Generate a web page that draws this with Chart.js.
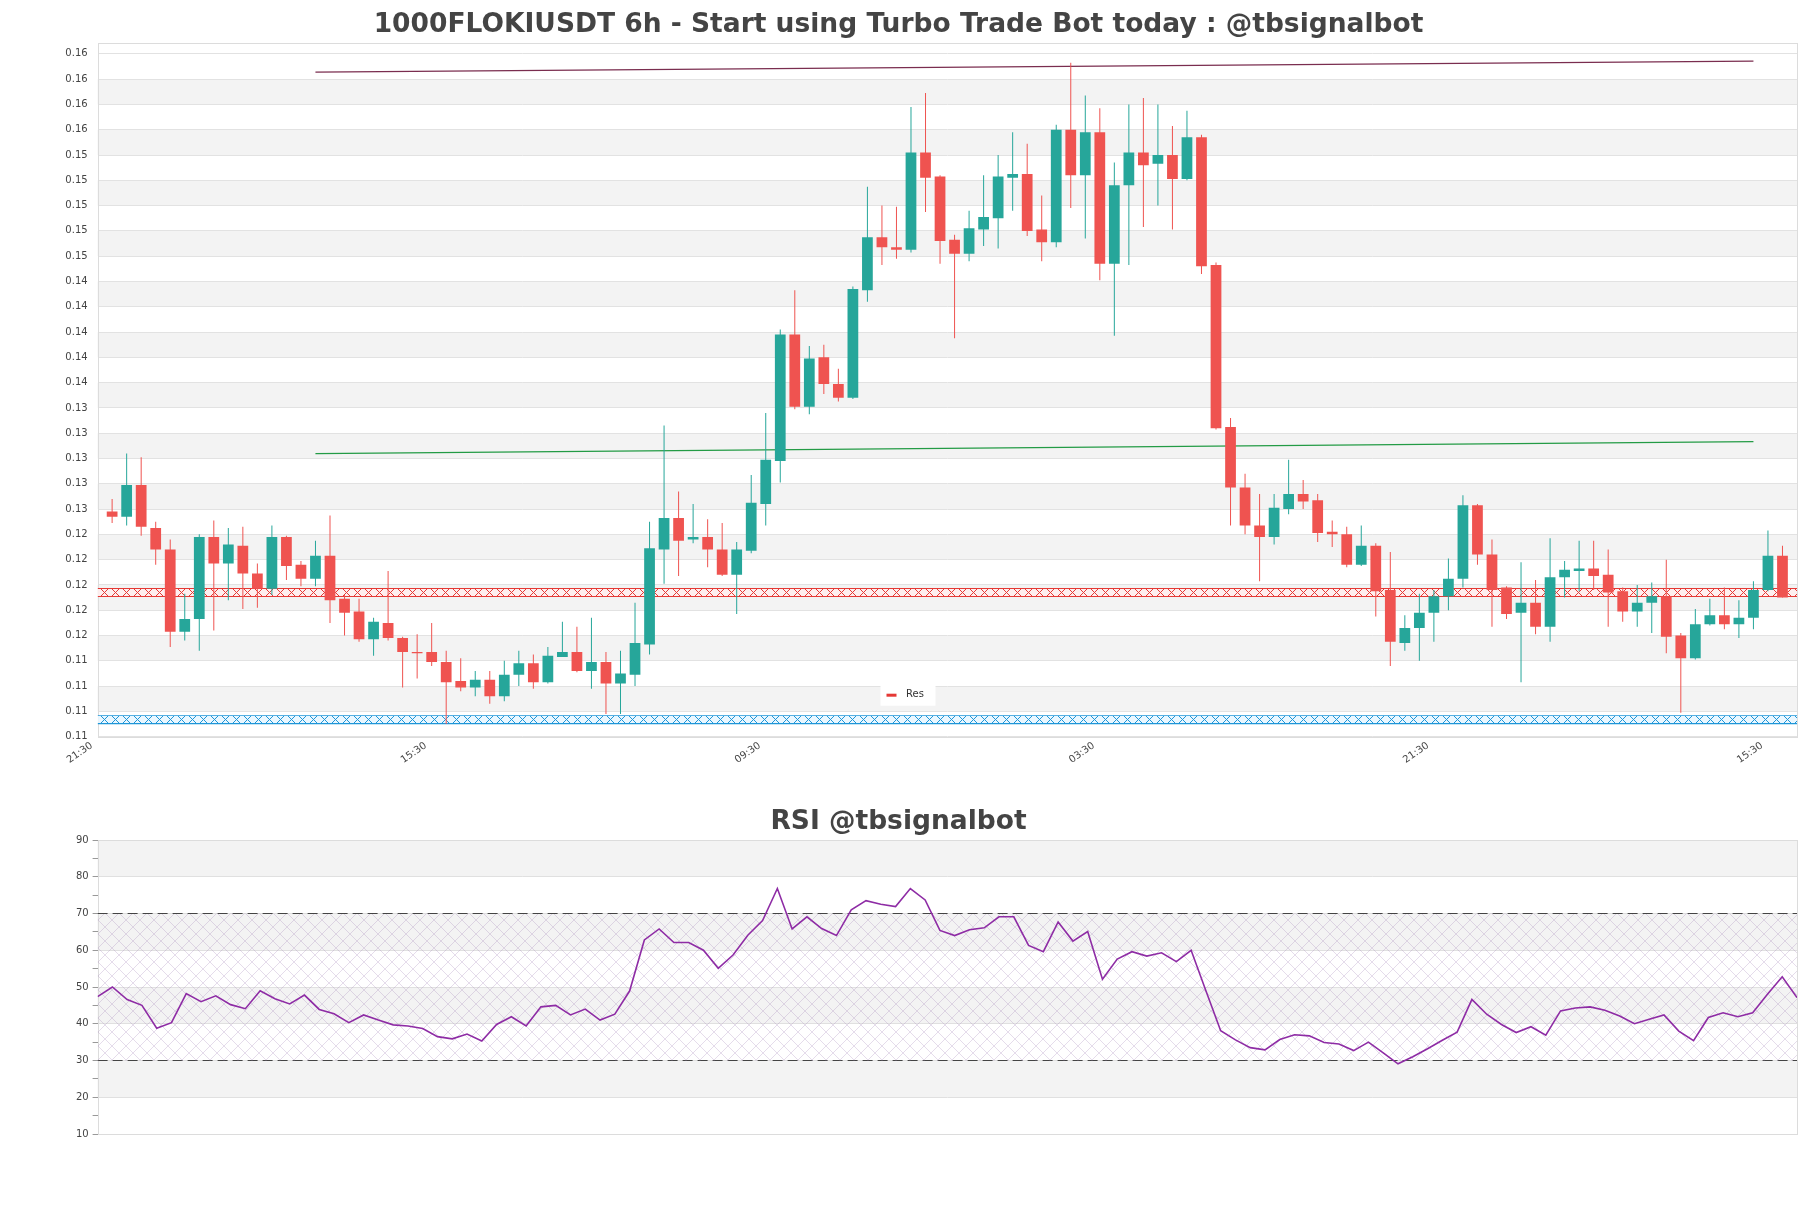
<!DOCTYPE html>
<html>
<head>
<meta charset="utf-8">
<script src="https://cdn.jsdelivr.net/npm/chart.js@4.4.1/dist/chart.umd.min.js"></script>
<style>
  html, body { margin: 0; padding: 0; background: #fff; }
  #wrap { position: relative; width: 1811px; height: 1208px; }
  #priceChart { position: absolute; left: 0; top: 0; }
  #rsiChart { position: absolute; left: 0; top: 780px; }
</style>
</head>
<body>
<div id="wrap">
  <canvas id="priceChart" width="1811" height="780"></canvas>
  <canvas id="rsiChart" width="1811" height="428"></canvas>
</div>
<script>
// 6h candles
const opens = [
  0.1258, 0.1254, 0.1279, 0.1245, 0.1228, 0.1163, 0.1173, 0.1238, 0.1217, 0.1231,
  0.1209, 0.1197, 0.1238, 0.1216, 0.1205, 0.1223, 0.1189, 0.1179, 0.1157, 0.1170,
  0.1158, 0.1147, 0.1147, 0.1139, 0.1124, 0.1119, 0.1125, 0.1112, 0.1129, 0.1138,
  0.1123, 0.1143, 0.1147, 0.1132, 0.1139, 0.1122, 0.1129, 0.1153, 0.1228, 0.1253,
  0.1236, 0.1238, 0.1228, 0.1208, 0.1227, 0.1264, 0.1298, 0.1398, 0.1341, 0.1380,
  0.1359, 0.1348, 0.1433, 0.1475, 0.1467, 0.1465, 0.1542, 0.1523, 0.1473, 0.1462,
  0.1481, 0.1490, 0.1522, 0.1525, 0.1481, 0.1471, 0.1560, 0.1524, 0.1558, 0.1454,
  0.1516, 0.1542, 0.1533, 0.1540, 0.1521, 0.1554, 0.1453, 0.1325, 0.1277, 0.1247,
  0.1238, 0.1260, 0.1272, 0.1267, 0.1242, 0.1240, 0.1216, 0.1231, 0.1196, 0.1154,
  0.1166, 0.1178, 0.1191, 0.1205, 0.1263, 0.1224, 0.1198, 0.1178, 0.1186, 0.1167,
  0.1206, 0.1211, 0.1213, 0.1208, 0.1195, 0.1179, 0.1186, 0.1191, 0.1160, 0.1142,
  0.1169, 0.1176, 0.1169, 0.1174, 0.1196, 0.1223
];
const highs = [
  0.1268, 0.1304, 0.1301, 0.1250, 0.1236, 0.1193, 0.1240, 0.1251, 0.1245, 0.1246,
  0.1217, 0.1247, 0.1239, 0.1219, 0.1235, 0.1255, 0.1192, 0.1189, 0.1174, 0.1211,
  0.1159, 0.1161, 0.1170, 0.1148, 0.1142, 0.1132, 0.1132, 0.1140, 0.1148, 0.1145,
  0.1151, 0.1171, 0.1167, 0.1174, 0.1147, 0.1148, 0.1186, 0.1250, 0.1326, 0.1274,
  0.1264, 0.1252, 0.1249, 0.1234, 0.1287, 0.1336, 0.1402, 0.1433, 0.1389, 0.1390,
  0.1371, 0.1436, 0.1515, 0.1500, 0.1499, 0.1578, 0.1589, 0.1524, 0.1477, 0.1496,
  0.1524, 0.1540, 0.1558, 0.1549, 0.1508, 0.1564, 0.1613, 0.1587, 0.1577, 0.1534,
  0.1580, 0.1585, 0.1580, 0.1563, 0.1575, 0.1556, 0.1455, 0.1332, 0.1288, 0.1272,
  0.1272, 0.1299, 0.1283, 0.1272, 0.1251, 0.1246, 0.1247, 0.1233, 0.1226, 0.1176,
  0.1193, 0.1196, 0.1221, 0.1271, 0.1264, 0.1236, 0.1199, 0.1218, 0.1204, 0.1237,
  0.1219, 0.1235, 0.1235, 0.1228, 0.1198, 0.1200, 0.1202, 0.1220, 0.1162, 0.1181,
  0.1189, 0.1198, 0.1188, 0.1203, 0.1243, 0.1231
];
const lows = [
  0.1249, 0.1247, 0.1239, 0.1216, 0.1151, 0.1156, 0.1148, 0.1164, 0.1188, 0.1181,
  0.1182, 0.1192, 0.1204, 0.1199, 0.1199, 0.1170, 0.1160, 0.1155, 0.1144, 0.1156,
  0.1119, 0.1126, 0.1136, 0.1090, 0.1116, 0.1112, 0.1106, 0.1108, 0.1120, 0.1118,
  0.1122, 0.1143, 0.1131, 0.1118, 0.1098, 0.1098, 0.1120, 0.1145, 0.1201, 0.1207,
  0.1233, 0.1214, 0.1207, 0.1177, 0.1225, 0.1247, 0.1281, 0.1339, 0.1335, 0.1351,
  0.1345, 0.1347, 0.1424, 0.1453, 0.1458, 0.1463, 0.1495, 0.1454, 0.1395, 0.1456,
  0.1468, 0.1466, 0.1496, 0.1476, 0.1456, 0.1467, 0.1498, 0.1474, 0.1441, 0.1397,
  0.1453, 0.1483, 0.1500, 0.1481, 0.1520, 0.1446, 0.1323, 0.1247, 0.1240, 0.1203,
  0.1232, 0.1256, 0.1260, 0.1234, 0.1230, 0.1214, 0.1215, 0.1175, 0.1136, 0.1148,
  0.1140, 0.1155, 0.1180, 0.1198, 0.1216, 0.1167, 0.1173, 0.1123, 0.1161, 0.1155,
  0.1190, 0.1195, 0.1196, 0.1167, 0.1171, 0.1167, 0.1162, 0.1146, 0.1099, 0.1141,
  0.1168, 0.1165, 0.1158, 0.1165, 0.1195, 0.1190
];
const closes = [
  0.1254, 0.1279, 0.1246, 0.1228, 0.1163, 0.1173, 0.1238, 0.1217, 0.1232, 0.1209,
  0.1197, 0.1238, 0.1215, 0.1205, 0.1223, 0.1188, 0.1178, 0.1157, 0.1171, 0.1158,
  0.1147, 0.1146, 0.1139, 0.1123, 0.1119, 0.1125, 0.1112, 0.1129, 0.1138, 0.1123,
  0.1144, 0.1147, 0.1132, 0.1139, 0.1122, 0.1130, 0.1154, 0.1229, 0.1253, 0.1235,
  0.1238, 0.1228, 0.1208, 0.1228, 0.1265, 0.1299, 0.1398, 0.1341, 0.1379, 0.1359,
  0.1348, 0.1434, 0.1475, 0.1467, 0.1465, 0.1542, 0.1522, 0.1472, 0.1462, 0.1482,
  0.1491, 0.1523, 0.1525, 0.1480, 0.1471, 0.1560, 0.1524, 0.1558, 0.1454, 0.1516,
  0.1542, 0.1532, 0.1540, 0.1521, 0.1554, 0.1452, 0.1324, 0.1277, 0.1247, 0.1238,
  0.1261, 0.1272, 0.1266, 0.1241, 0.1240, 0.1216, 0.1231, 0.1195, 0.1155, 0.1166,
  0.1178, 0.1191, 0.1205, 0.1263, 0.1224, 0.1196, 0.1177, 0.1186, 0.1167, 0.1206,
  0.1212, 0.1213, 0.1207, 0.1194, 0.1179, 0.1186, 0.1191, 0.1159, 0.1142, 0.1169,
  0.1176, 0.1169, 0.1174, 0.1196, 0.1223, 0.1190
];

// RSI, one value per candle
const rsiValues = [
  47.4, 50.0, 46.6, 45.0, 38.8, 40.3, 48.2, 46.0, 47.6, 45.2,
  44.1, 49.0, 46.8, 45.4, 47.8, 43.9, 42.7, 40.3, 42.4, 41.0,
  39.7, 39.4, 38.7, 36.5, 35.9, 37.2, 35.3, 39.8, 41.9, 39.4,
  44.6, 45.0, 42.4, 44.0, 41.0, 42.6, 48.9, 62.8, 65.8, 62.1,
  62.1, 60.0, 55.1, 58.7, 64.1, 68.1, 76.8, 65.8, 69.1, 65.9,
  64.0, 71.0, 73.5, 72.5, 71.9, 76.8, 73.7, 65.4, 64.0, 65.6,
  66.1, 69.1, 69.1, 61.3, 59.6, 67.7, 62.5, 65.1, 52.1, 57.6,
  59.6, 58.4, 59.3, 56.9, 60.0, 49.0, 38.1, 35.6, 33.5, 32.9,
  35.7, 37.0, 36.7, 34.9, 34.5, 32.7, 35.0, 32.1, 29.1, 31.0,
  33.2, 35.5, 37.7, 46.6, 42.6, 39.8, 37.6, 39.2, 36.9, 43.5,
  44.3, 44.6, 43.7, 42.1, 40.0, 41.2, 42.4, 38.0, 35.4, 41.7,
  43.0, 41.9, 43.0, 48.0, 52.8, 47.1
];
const rsiLevels = [70, 30];
const rsiTicks = [10, 20, 30, 40, 50, 60, 70, 80, 90];

// support / resistance and trend lines (candle index, price)
const resLevel = 0.1194;
const supLevel = 0.10935;
const upperTrend = [{ x: 14, y: 0.16055 }, { x: 113, y: 0.16142 }];
const lowerTrend = [{ x: 14, y: 0.13038 }, { x: 113, y: 0.13133 }];

// axis ticks
const xTickIndex = [-1, 22, 45, 68, 91, 114];
const xTickLabels = ['21:30', '15:30', '09:30', '03:30', '21:30', '15:30'];
const yTickValues = [
  0.108, 0.110, 0.112, 0.114, 0.116, 0.118, 0.120, 0.122, 0.124, 0.126,
  0.128, 0.130, 0.132, 0.134, 0.136, 0.138, 0.140, 0.142, 0.144, 0.146,
  0.148, 0.150, 0.152, 0.154, 0.156, 0.158, 0.160, 0.162
];

const UP = '#26a69a';
const DOWN = '#ef5350';
const RES_COLOR = '#e53935';
const SUP_COLOR = '#1e96d8';

Chart.defaults.font.family = "'DejaVu Sans', sans-serif";
Chart.defaults.color = '#444';

// row of crosses used for the support / resistance bands
function bandPattern(color, bg) {
  const w = 11, h = 9;
  const c = document.createElement('canvas');
  c.width = w; c.height = h;
  const g = c.getContext('2d');
  g.fillStyle = bg;
  g.fillRect(0, 0, w, h);
  g.strokeStyle = color;
  g.lineWidth = 1;
  g.beginPath();
  g.moveTo(0, 0.5); g.lineTo(w, 0.5);
  g.moveTo(0, h - 0.5); g.lineTo(w, h - 0.5);
  g.moveTo(1.5, 0.5); g.lineTo(w - 1.5, h - 0.5);
  g.moveTo(w - 1.5, 0.5); g.lineTo(1.5, h - 0.5);
  g.stroke();
  return g.createPattern(c, 'repeat');
}

// light diagonal cross-hatch for the RSI 30-70 zone
function hatchPattern() {
  const s = 14;
  const c = document.createElement('canvas');
  c.width = s; c.height = s;
  const g = c.getContext('2d');
  g.strokeStyle = 'rgba(170, 140, 190, 0.3)';
  g.lineWidth = 1;
  g.beginPath();
  g.moveTo(0, 0); g.lineTo(s, s);
  g.moveTo(s, 0); g.lineTo(0, s);
  g.stroke();
  return g.createPattern(c, 'repeat');
}

// alternating grey bands between major y ticks, plus a frame round the plot
const bandsPlugin = {
  id: 'bands',
  beforeDraw(chart, args, opts) {
    const { ctx, chartArea: a } = chart;
    const ys = chart.scales.y;
    const major = ys.ticks.map((t) => t.value).filter(opts.filter).sort((p, q) => p - q);
    ctx.save();
    ctx.fillStyle = opts.color;
    for (let i = 1; i < major.length - 1; i += 2) {
      const top = ys.getPixelForValue(major[i + 1]);
      const bottom = ys.getPixelForValue(major[i]);
      ctx.fillRect(a.left, top, a.right - a.left, bottom - top);
    }
    ctx.restore();
  },
  beforeDatasetsDraw(chart, args, opts) {
    const { ctx, chartArea: a } = chart;
    ctx.save();
    ctx.strokeStyle = opts.frame;
    ctx.lineWidth = 1;
    ctx.strokeRect(Math.round(a.left) + 0.5, Math.round(a.top) + 0.5,
      Math.round(a.right - a.left), Math.round(a.bottom - a.top));
    ctx.restore();
  }
};

// keep the cross patterns lined up with their band
const patternAlign = {
  id: 'patternAlign',
  beforeDatasetsDraw(chart) {
    chart.data.datasets.forEach((ds) => {
      if (!ds.isBand) return;
      const y = chart.scales.y.getPixelForValue(ds.data[0].y);
      ds.borderColor.setTransform(new DOMMatrix().translate(0, Math.round(y - ds.borderWidth / 2)));
    });
  }
};

// small legend box with the "Res" entry, sitting low in the plot
const resLegend = {
  id: 'resLegend',
  afterDraw(chart) {
    const ds = chart.data.datasets.find((d) => d.showInLegend);
    if (!ds) return;
    const { ctx, chartArea: a, width } = chart;
    const cx = width / 2;
    const cy = a.bottom - 42;
    ctx.save();
    ctx.fillStyle = '#fff';
    ctx.fillRect(cx - 25, cy - 10, 55, 21);
    ctx.strokeStyle = RES_COLOR;
    ctx.lineWidth = 3;
    ctx.beginPath();
    ctx.moveTo(cx - 19, cy + 0.5);
    ctx.lineTo(cx - 9, cy + 0.5);
    ctx.stroke();
    ctx.fillStyle = '#333';
    ctx.font = "10px 'DejaVu Sans'";
    ctx.textBaseline = 'middle';
    ctx.fillText(ds.label, cx + 0.5, cy);
    ctx.restore();
  }
};

const candleColor = (ctx) => (closes[ctx.dataIndex] >= opens[ctx.dataIndex] ? UP : DOWN);
const lastIndex = opens.length - 1;

new Chart(document.getElementById('priceChart'), {
  type: 'bar',
  data: {
    datasets: [
      {
        label: 'Body',
        data: opens.map((o, i) => ({ x: i, y: [o, closes[i]] })),
        backgroundColor: candleColor,
        borderWidth: 0,
        grouped: false,
        categoryPercentage: 1,
        barPercentage: 0.74
      },
      {
        label: 'Wick',
        data: lows.map((l, i) => ({ x: i, y: [l, highs[i]] })),
        backgroundColor: candleColor,
        borderWidth: 0,
        grouped: false,
        barThickness: 1,
        inflateAmount: 0
      },
      {
        type: 'line',
        label: 'Res',
        showInLegend: true,
        isBand: true,
        data: [{ x: -1, y: resLevel }, { x: lastIndex + 1, y: resLevel }],
        borderColor: bandPattern(RES_COLOR, 'rgba(255, 238, 238, 0.9)'),
        borderWidth: 9,
        borderCapStyle: 'butt',
        pointRadius: 0
      },
      {
        type: 'line',
        label: 'Sup',
        isBand: true,
        data: [{ x: -1, y: supLevel }, { x: lastIndex + 1, y: supLevel }],
        borderColor: bandPattern(SUP_COLOR, 'rgba(232, 246, 255, 0.9)'),
        borderWidth: 9,
        borderCapStyle: 'butt',
        pointRadius: 0
      },
      {
        type: 'line',
        label: 'Upper trend',
        data: upperTrend,
        borderColor: '#7a2d4f',
        borderWidth: 1.2,
        pointRadius: 0
      },
      {
        type: 'line',
        label: 'Lower trend',
        data: lowerTrend,
        borderColor: '#239b45',
        borderWidth: 1.2,
        pointRadius: 0
      }
    ]
  },
  options: {
    responsive: false,
    animation: false,
    events: [],
    layout: { padding: { left: 0, right: 14, top: 0, bottom: 0 } },
    plugins: {
      legend: { display: false },
      tooltip: { enabled: false },
      title: {
        display: true,
        text: '1000FLOKIUSDT 6h - Start using Turbo Trade Bot today : @tbsignalbot',
        color: '#444',
        font: { size: 26.5, weight: 'bold' },
        padding: { top: 9.3, bottom: 2 }
      },
      bands: { color: '#f3f3f3', frame: '#dcdcdc', filter: () => true }
    },
    scales: {
      x: {
        type: 'linear',
        min: -1,
        max: lastIndex + 1,
        offset: false,
        grid: { display: false, drawTicks: false },
        border: { display: false },
        afterBuildTicks: (axis) => { axis.ticks = xTickIndex.map((v) => ({ value: v })); },
        afterFit: (axis) => { axis.height = 43.3; },
        ticks: {
          autoSkip: false,
          minRotation: 35,
          maxRotation: 35,
          padding: 3,
          labelOffset: -6,
          font: { size: 10 },
          color: '#444',
          callback: (value, index) => xTickLabels[index]
        }
      },
      y: {
        type: 'linear',
        min: 0.108,
        max: 0.16285,
        grid: { color: '#e2e2e2', drawTicks: false },
        border: { display: false },
        afterBuildTicks: (axis) => { axis.ticks = yTickValues.map((v) => ({ value: v })); },
        afterFit: (axis) => { axis.width = 97.6; },
        ticks: {
          autoSkip: false,
          padding: 10,
          font: { size: 10 },
          color: '#444',
          callback: (value) => value.toFixed(2)
        }
      }
    }
  },
  plugins: [bandsPlugin, patternAlign, resLegend]
});

const rsiLast = rsiValues.length - 1;

new Chart(document.getElementById('rsiChart'), {
  type: 'line',
  data: {
    datasets: [
      {
        label: 'RSI',
        data: rsiValues.map((v, i) => ({ x: i, y: v })),
        borderColor: '#8e2ca5',
        borderWidth: 1.6,
        pointRadius: 0,
        tension: 0
      },
      {
        label: 'Overbought',
        data: [{ x: 0, y: rsiLevels[0] }, { x: rsiLast, y: rsiLevels[0] }],
        borderColor: '#444',
        borderWidth: 1.2,
        borderDash: [10, 5],
        pointRadius: 0,
        fill: '+1',
        backgroundColor: hatchPattern()
      },
      {
        label: 'Oversold',
        data: [{ x: 0, y: rsiLevels[1] }, { x: rsiLast, y: rsiLevels[1] }],
        borderColor: '#444',
        borderWidth: 1.2,
        borderDash: [10, 5],
        pointRadius: 0,
        fill: false
      }
    ]
  },
  options: {
    responsive: false,
    animation: false,
    events: [],
    layout: { padding: { left: 0, right: 14, top: 0, bottom: 74 } },
    plugins: {
      legend: { display: false },
      tooltip: { enabled: false },
      title: {
        display: true,
        text: 'RSI @tbsignalbot',
        color: '#444',
        font: { size: 26.5, weight: 'bold' },
        padding: { top: 26.1, bottom: 2.1 }
      },
      bands: { color: '#f3f3f3', frame: '#dcdcdc', filter: (v) => rsiTicks.includes(v) }
    },
    scales: {
      x: {
        type: 'linear',
        display: false,
        min: 0,
        max: rsiLast
      },
      y: {
        type: 'linear',
        min: rsiTicks[0],
        max: rsiTicks[rsiTicks.length - 1],
        border: { display: false },
        grid: {
          color: (ctx) => (ctx.tick && rsiTicks.includes(ctx.tick.value) ? '#e0e0e0' : 'rgba(0,0,0,0)'),
          tickColor: '#999',
          tickLength: 5,
          drawTicks: true
        },
        afterFit: (axis) => { axis.width = 97.6; },
        ticks: {
          stepSize: 5,
          autoSkip: false,
          padding: 4,
          font: { size: 10 },
          color: '#444',
          callback: (value) => (rsiTicks.includes(value) ? value : '')
        }
      }
    }
  },
  plugins: [bandsPlugin]
});
</script>
</body>
</html>
